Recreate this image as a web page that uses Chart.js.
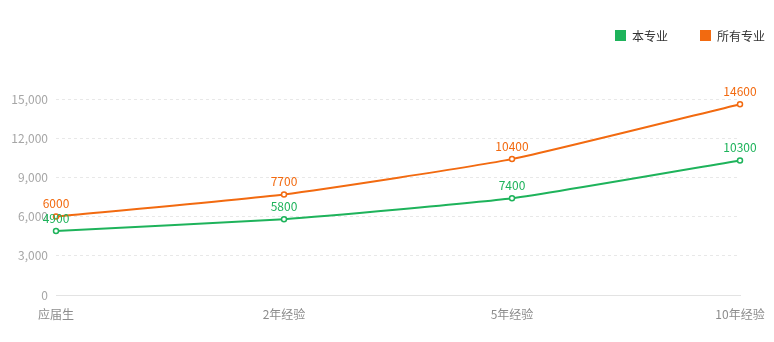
<!DOCTYPE html>
<html>
<head>
<meta charset="utf-8">
<script src="https://cdn.jsdelivr.net/npm/chart.js@4/dist/chart.umd.min.js"></script>
<style>
  html, body { margin: 0; padding: 0; background: #ffffff; }
  #wrap { width: 774px; height: 342px; }
</style>
</head>
<body>
<div id="wrap"><canvas id="c" width="774" height="342"></canvas></div>
<script>
// Salary by years of experience
const categories = ['应届生', '2年经验', '5年经验', '10年经验'];
const majorSalary = [4900, 5800, 7400, 10300];
const allSalary = [6000, 7700, 10400, 14600];
const seriesNames = ['本专业', '所有专业'];
const yTicks = [0, 3000, 6000, 9000, 12000, 15000];

const GREEN = '#1eb35b';
const ORANGE = '#f26a10';
const FONT = '"Noto Sans CJK SC", "Noto Sans", sans-serif';

// Value labels above each point
const valueLabels = {
  id: 'valueLabels',
  afterDatasetsDraw(chart) {
    const ctx = chart.ctx;
    ctx.save();
    ctx.font = '12px ' + FONT;
    ctx.textAlign = 'center';
    ctx.textBaseline = 'bottom';
    chart.data.datasets.forEach((ds, i) => {
      const meta = chart.getDatasetMeta(i);
      ctx.fillStyle = ds.borderColor;
      meta.data.forEach((pt, j) => {
        ctx.fillText(String(ds.data[j]), pt.x, pt.y - 7);
      });
    });
    ctx.restore();
  }
};

// Legend in the top-right corner
const cornerLegend = {
  id: 'cornerLegend',
  afterDraw(chart) {
    const ctx = chart.ctx;
    ctx.save();
    ctx.font = '12px ' + FONT;
    ctx.textBaseline = 'middle';
    ctx.textAlign = 'left';
    const box = 11, gapText = 6, gapItem = 32, cy = 35.5;
    const items = chart.data.datasets.map(ds => ({ label: ds.label, color: ds.borderColor }));
    let total = 0;
    items.forEach((it, i) => {
      it.w = box + gapText + ctx.measureText(it.label).width;
      total += it.w + (i ? gapItem : 0);
    });
    let x = chart.width - 9 - total;
    items.forEach(it => {
      ctx.fillStyle = it.color;
      ctx.fillRect(x, cy - box / 2, box, box);
      ctx.fillStyle = '#333333';
      ctx.fillText(it.label, x + box + gapText, cy + 0.5);
      x += it.w + gapItem;
    });
    ctx.restore();
  }
};

new Chart(document.getElementById('c'), {
  type: 'line',
  data: {
    labels: categories,
    datasets: [
      {
        label: seriesNames[0],
        data: majorSalary,
        borderColor: GREEN,
        backgroundColor: '#ffffff',
        borderWidth: 2,
        pointRadius: 2.5,
        pointBorderWidth: 1.5,
        pointBackgroundColor: '#ffffff',
        tension: 0.15,
        fill: false
      },
      {
        label: seriesNames[1],
        data: allSalary,
        borderColor: ORANGE,
        backgroundColor: '#ffffff',
        borderWidth: 2,
        pointRadius: 2.5,
        pointBorderWidth: 1.5,
        pointBackgroundColor: '#ffffff',
        tension: 0.15,
        fill: false
      }
    ]
  },
  options: {
    responsive: false,
    animation: false,
    layout: { padding: { top: 99, right: 34, left: 0, bottom: 0 } },
    plugins: {
      legend: { display: false },
      tooltip: { enabled: false }
    },
    scales: {
      x: {
        offset: false,
        afterFit(scale) { scale.height = 47; },
        grid: { display: false },
        border: { display: true, color: '#e3e3e3', width: 1 },
        ticks: {
          color: '#8c8c8c',
          font: { family: FONT, size: 12 },
          padding: 4,
          maxRotation: 0,
          autoSkip: false
        }
      },
      y: {
        min: 0,
        max: 15000,
        afterFit(scale) { scale.width = 56; },
        afterBuildTicks(scale) { scale.ticks = yTicks.map(v => ({ value: v })); },
        grid: {
          color: '#e8e8e8',
          drawTicks: false,
          lineWidth: 1
        },
        border: { display: false, dash: [3, 3] },
        ticks: {
          color: '#a6a6a6',
          font: { family: FONT, size: 12 },
          padding: 8,
          callback: v => v.toLocaleString('en-US')
        }
      }
    }
  },
  plugins: [valueLabels, cornerLegend]
});
</script>
</body>
</html>
